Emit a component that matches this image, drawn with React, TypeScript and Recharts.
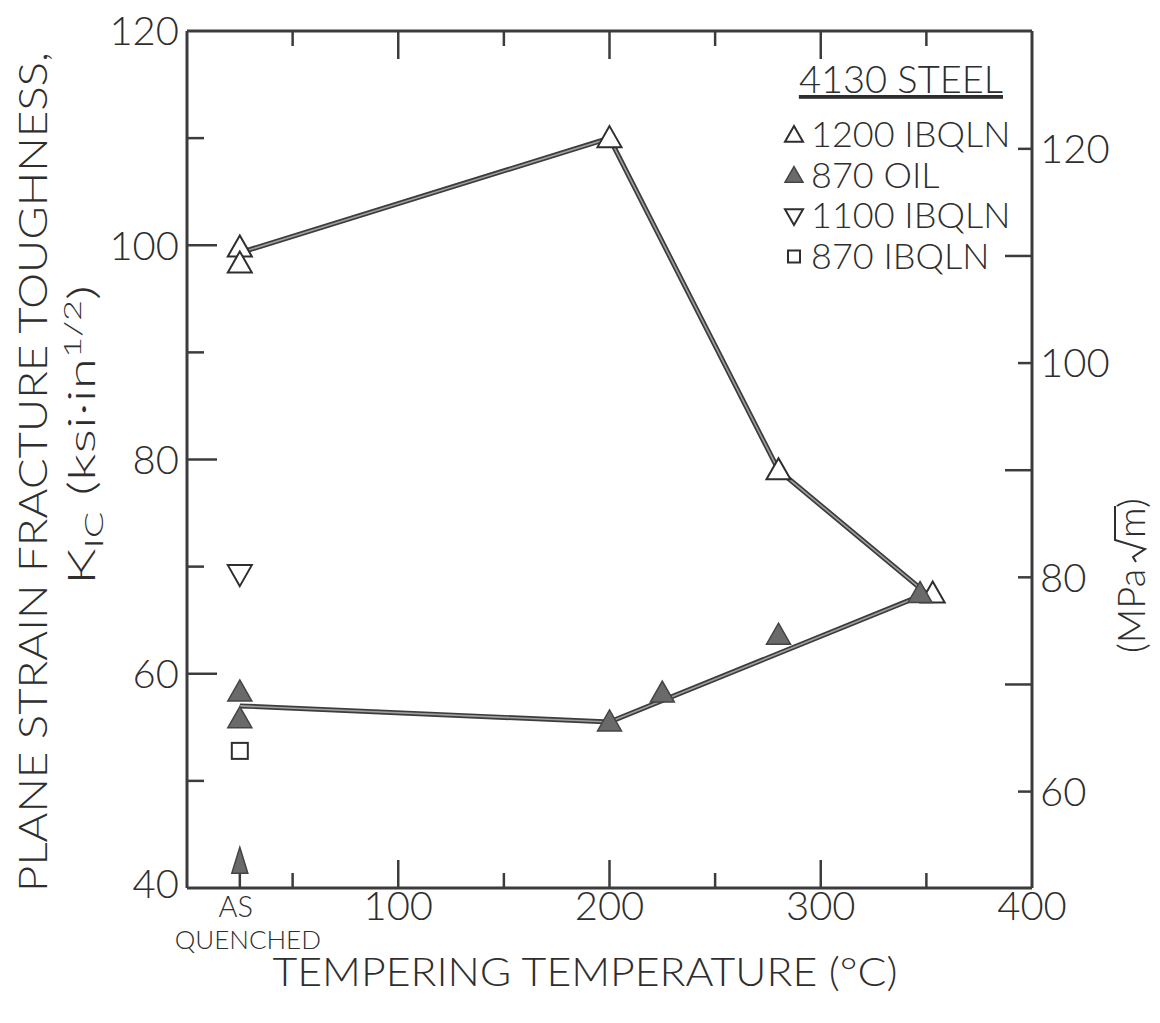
import { ComposedChart, Line, Scatter, XAxis, YAxis } from "recharts";

// tempering temperature in °C (25 = as quenched), K_IC in ksi·in^1/2
const ibq1200Temp = [25, 25, 200, 280, 353];
const ibq1200K = [99.8, 98.3, 110, 79, 67.5];
const oil870Temp = [25, 25, 200, 225, 280, 347];
const oil870K = [58.3, 55.8, 55.5, 58.2, 63.6, 67.5];
const oil870BoundTemp = [25];
const oil870BoundK = [42.5];
const ibq1100Temp = [25];
const ibq1100K = [69.3];
const ibq870Temp = [25];
const ibq870K = [52.8];

// hand-drawn trend curves
const upperCurveTemp = [25, 200, 280, 350];
const upperCurveK = [99.3, 110, 79, 67.5];
const lowerCurveTemp = [25, 200, 350];
const lowerCurveK = [57, 55.5, 67.5];
const arrowTemp = [25, 25];
const arrowK = [40, 42];

const xTicks = [25, 50, 100, 150, 200, 250, 300, 350, 400];
const topTicks = [50, 100, 150, 200, 250, 300, 350];
const ksiTicks = [40, 50, 60, 70, 80, 90, 100, 110, 120];
const mpaTicks = [60, 70, 80, 90, 100, 110, 120];

const legendItems = ["1200 IBQLN", "870 OIL", "1100 IBQLN", "870 IBQLN"];

const pts = (t: number[], k: number[]) => t.map((v, i) => ({ t: v, k: k[i] }));

const W = 1144;
const H = 1000;
const INK = "#2e2e2e";
const LINE = "#3c3c3c";
const FONT = "Lato, 'DejaVu Sans', sans-serif";

const tri = (cx: number, cy: number, s: number, down = false) => {
  const d = down ? -1 : 1;
  return `M${cx},${cy - 12 * s * d} L${cx + 12 * s},${cy + 9 * s * d} L${cx - 12 * s},${cy + 9 * s * d} Z`;
};

const OpenUp = ({ cx, cy, s = 1 }: any) => <path d={tri(cx, cy, s)} fill="#fff" stroke={INK} strokeWidth={2} />;
const FilledUp = ({ cx, cy, s = 1 }: any) => <path d={tri(cx, cy, s)} fill="#6a6a6a" stroke="#444" strokeWidth={1.5} />;
const OpenDown = ({ cx, cy, s = 1 }: any) => <path d={tri(cx, cy, s, true)} fill="#fff" stroke={INK} strokeWidth={2} />;
const OpenSquare = ({ cx, cy, s = 1 }: any) => (
  <rect x={cx - 8 * s} y={cy - 8 * s} width={16 * s} height={16 * s} fill="#fff" stroke={INK} strokeWidth={2} />
);
const ArrowHead = ({ cx, cy }: any) => (
  <path d={`M${cx},${cy - 14} L${cx + 8},${cy + 12} L${cx - 8},${cy + 12} Z`} fill="#6a6a6a" stroke="#444" strokeWidth={1.5} />
);

function BottomTick(props: any) {
  const { x, y, payload } = props;
  const v = payload.value as number;
  const len = v % 100 === 0 ? 28 : 15;
  return (
    <g>
      {v > 25 && v < 400 && <line x1={x} x2={x} y1={y} y2={y - len} stroke={LINE} strokeWidth={2.5} />}
      {v === 25 && (
        <text fontFamily={FONT} fontWeight={300} fill={INK} textAnchor="middle">
          <tspan x={x - 4} y={y + 29} fontSize={29}>AS</tspan>
          <tspan x={x + 8} y={y + 61} fontSize={26}>QUENCHED</tspan>
        </text>
      )}
      {v > 25 && v % 100 === 0 && (
        <text x={x} y={y + 32} fontFamily={FONT} fontWeight={300} fontSize={40} fill={INK} textAnchor="middle">
          {v}
        </text>
      )}
    </g>
  );
}

function TopTick(props: any) {
  const { x, y, payload } = props;
  const len = payload.value % 100 === 0 ? 28 : 15;
  return <line x1={x} x2={x} y1={y} y2={y + len} stroke={LINE} strokeWidth={2.5} />;
}

function LeftTick(props: any) {
  const { x, y, payload } = props;
  const v = payload.value as number;
  const major = v % 20 === 0;
  const lift = v === 40 ? -4 : 0;
  return (
    <g>
      {v > 40 && v < 120 && <line x1={x} x2={x + (major ? 30 : 17)} y1={y} y2={y} stroke={LINE} strokeWidth={2.5} />}
      {major && (
        <text x={x - 8} y={y + lift} dy="0.36em" fontFamily={FONT} fontWeight={300} fontSize={40} fill={INK} textAnchor="end">
          {v}
        </text>
      )}
    </g>
  );
}

function RightTick(props: any) {
  const { x, y, payload } = props;
  const v = payload.value as number;
  const major = v % 20 === 0;
  return (
    <g>
      <line x1={x} x2={x - (major ? 14 : 27)} y1={y} y2={y} stroke={LINE} strokeWidth={2.5} />
      {major && (
        <text x={x + 8} y={y} dy="0.36em" fontFamily={FONT} fontWeight={300} fontSize={40} fill={INK} textAnchor="start">
          {v}
        </text>
      )}
    </g>
  );
}

const legendMarks = [OpenUp, FilledUp, OpenDown, OpenSquare];

export default function App() {
  const frame = { stroke: LINE, strokeWidth: 3 };
  const curves = [pts(upperCurveTemp, upperCurveK), pts(lowerCurveTemp, lowerCurveK)];
  return (
    <div style={{ position: "relative", width: W, height: H }}>
      <style>{".recharts-surface { overflow: visible; }"}</style>
      <ComposedChart width={W} height={H} margin={{ top: 22, right: 0, bottom: 0, left: 0 }}>
        <XAxis xAxisId="b" type="number" dataKey="t" domain={[0, 400]} allowDataOverflow ticks={xTicks}
          interval={0} height={120} tickSize={0} tickMargin={0} tickLine={false} axisLine={frame} tick={<BottomTick />} />
        <XAxis xAxisId="top" orientation="top" type="number" dataKey="t" domain={[0, 400]} allowDataOverflow
          ticks={topTicks} interval={0} height={1} tickSize={0} tickMargin={0} tickLine={false} axisLine={frame} tick={<TopTick />} />
        <YAxis yAxisId="ksi" type="number" dataKey="k" domain={[40, 120]} allowDataOverflow ticks={ksiTicks}
          interval={0} width={179} tickSize={0} tickMargin={0} tickLine={false} axisLine={frame} tick={<LeftTick />} />
        <YAxis yAxisId="mpa" orientation="right" type="number" domain={[51, 131]} allowDataOverflow ticks={mpaTicks}
          interval={0} width={120} tickSize={0} tickMargin={0} tickLine={false} axisLine={frame} tick={<RightTick />} />

        {curves.map((d, i) => (
          <Line key={`o${i}`} xAxisId="b" yAxisId="ksi" data={d} dataKey="k" type="linear" stroke={LINE}
            strokeWidth={5} dot={false} activeDot={false} isAnimationActive={false} />
        ))}
        {curves.map((d, i) => (
          <Line key={`i${i}`} xAxisId="b" yAxisId="ksi" data={d} dataKey="k" type="linear" stroke="#a0a0a0"
            strokeWidth={1.6} dot={false} activeDot={false} isAnimationActive={false} />
        ))}
        <Line xAxisId="b" yAxisId="ksi" data={pts(arrowTemp, arrowK)} dataKey="k" stroke={LINE} strokeWidth={2.5}
          dot={false} activeDot={false} isAnimationActive={false} />

        <Scatter xAxisId="b" yAxisId="ksi" data={pts(ibq1200Temp, ibq1200K)} shape={<OpenUp />} isAnimationActive={false} />
        <Scatter xAxisId="b" yAxisId="ksi" data={pts(oil870Temp, oil870K)} shape={<FilledUp />} isAnimationActive={false} />
        <Scatter xAxisId="b" yAxisId="ksi" data={pts(oil870BoundTemp, oil870BoundK)} shape={<ArrowHead />} isAnimationActive={false} />
        <Scatter xAxisId="b" yAxisId="ksi" data={pts(ibq1100Temp, ibq1100K)} shape={<OpenDown />} isAnimationActive={false} />
        <Scatter xAxisId="b" yAxisId="ksi" data={pts(ibq870Temp, ibq870K)} shape={<OpenSquare />} isAnimationActive={false} />
      </ComposedChart>

      <svg width={W + 8} height={H} style={{ position: "absolute", left: 0, top: 0, pointerEvents: "none", overflow: "visible" }}
        fontFamily={FONT} fontWeight={300} fill={INK}>
        <text transform="translate(25,464) rotate(-90)" textAnchor="middle" dy="0.36em" fontSize={40}
          textLength={840} lengthAdjust="spacingAndGlyphs">
          PLANE STRAIN FRACTURE TOUGHNESS,
        </text>
        <text transform="translate(73,427) rotate(-90)" textAnchor="middle" dy="0.36em" fontSize={38}
          textLength={300} lengthAdjust="spacingAndGlyphs">
          <tspan>K</tspan>
          <tspan fontSize={26} dy={8}>IC</tspan>
          <tspan dy={-8}> (ksi·in</tspan>
          <tspan fontSize={24} dy={-14}>1/2</tspan>
          <tspan dy={14}>)</tspan>
        </text>
        <g transform="translate(1124,566) rotate(-90)">
          <text x={-79} y={13} fontSize={38}>(MPa</text>
          <path d="M12,4 L17,1 L25,13 L34,-17 L68,-17" fill="none" stroke={INK} strokeWidth={2} />
          <text x={36} y={13} fontSize={38}>m)</text>
        </g>
        <text x={577} y={964} textAnchor="middle" dy="0.36em" fontSize={40} textLength={625} lengthAdjust="spacingAndGlyphs">
          TEMPERING TEMPERATURE (°C)
        </text>

        <text x={995} y={85} textAnchor="end" fontSize={38} textDecoration="underline">
          4130 STEEL
        </text>
        {legendItems.map((label, i) => {
          const Mark = legendMarks[i];
          const base = 139 + i * 40.5;
          return (
            <g key={label}>
              <Mark cx={786} cy={base - 12} s={0.75} />
              <text x={803} y={base} fontSize={36}>
                {label}
              </text>
            </g>
          );
        })}
      </svg>
    </div>
  );
}
